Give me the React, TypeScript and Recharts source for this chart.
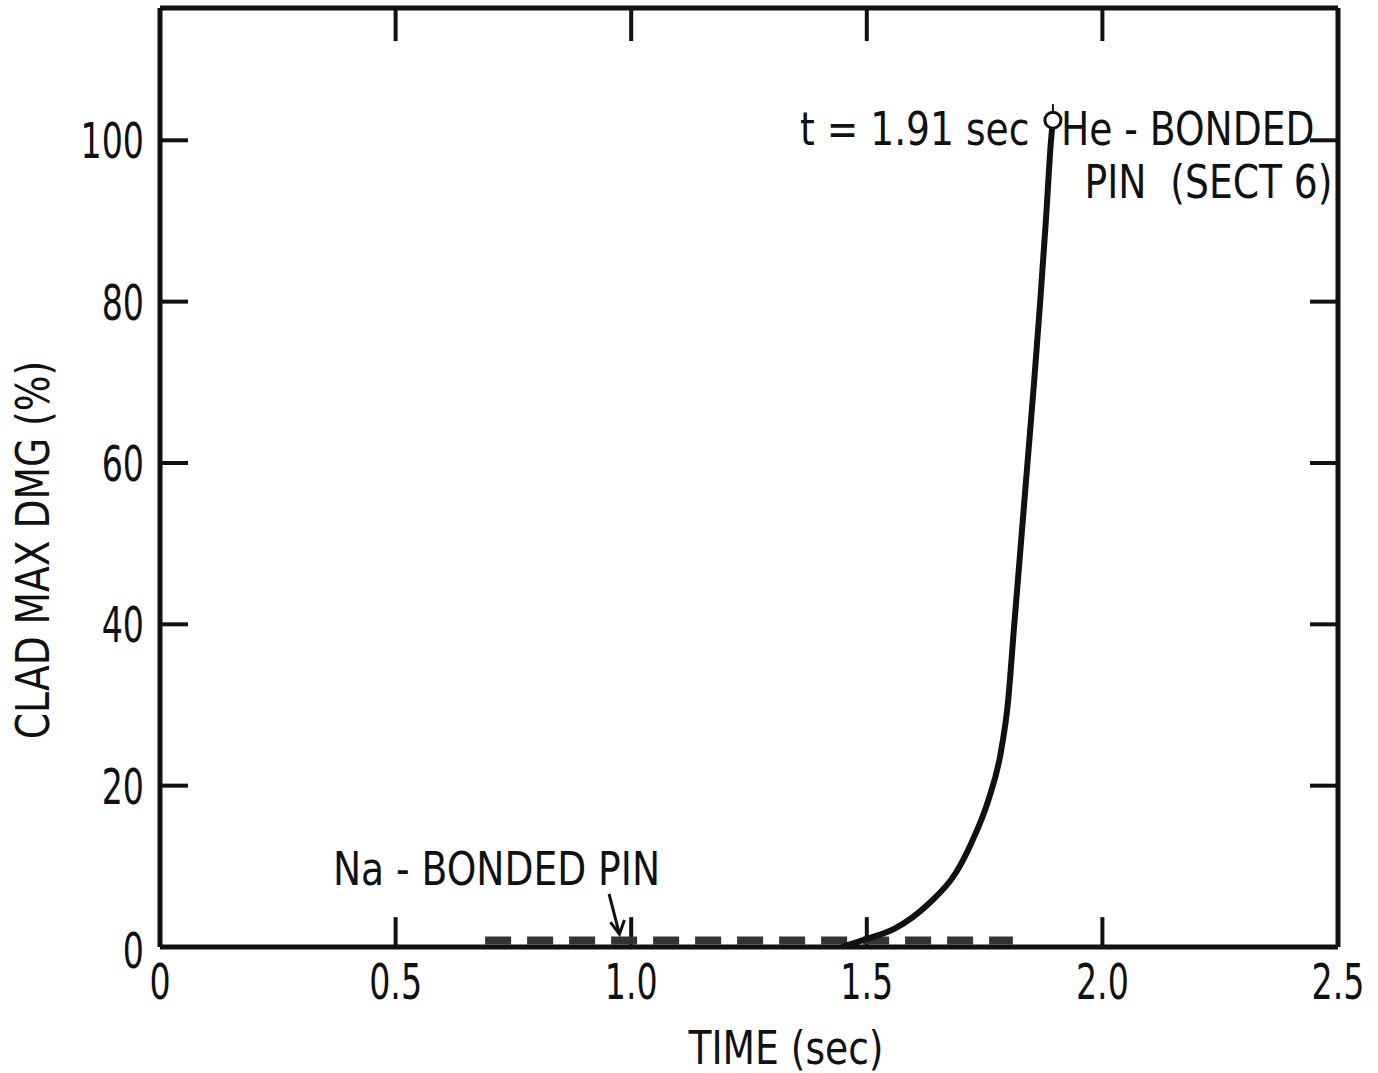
import React from "react";
import {
  LineChart,
  Line,
  XAxis,
  YAxis,
  ReferenceDot,
  ReferenceLine,
} from "recharts";

// He-bonded pin, section 6 (time in sec, clad max damage in %)
const heTime = [1.447, 1.5, 1.56, 1.63, 1.689, 1.722, 1.758, 1.784, 1.799, 1.813, 1.827, 1.841, 1.855, 1.868, 1.88, 1.891, 1.895];
const heDamage = [0, 1.0, 2.3, 5.3, 9.2, 12.9, 18.2, 24, 30, 40, 50, 60, 70, 80, 90, 100, 102.5];

// Na-bonded pin stays near zero
const naTime = [0.69, 1.81];
const naDamage = [0.8, 0.8];

const xTicks = [0, 0.5, 1, 1.5, 2, 2.5];
const xInnerTicks = [0.5, 1, 1.5, 2];
const yTicks = [0, 20, 40, 60, 80, 100];
const yInnerTicks = [20, 40, 60, 80, 100];
const yMax = 116.4;

const heData = heTime.map((t, i) => ({ t, dmg: heDamage[i] }));
const naData = naTime.map((t, i) => ({ t, dmg: naDamage[i] }));

const FONT = "'DejaVu Sans Condensed', 'Liberation Sans Narrow', 'Roboto Condensed', 'Open Sans', sans-serif";
const INK = "#111";

// tall, narrow lettering like the original drafting
function NarrowText(props: {
  x: number;
  y: number;
  text: string;
  anchor: "start" | "middle" | "end";
  size?: number;
  squeeze?: number;
  rotate?: number;
  dy?: string;
}) {
  const { x, y, text, anchor, size = 47, squeeze = 0.89, rotate = 0, dy = "0.36em" } = props;
  return (
    <g transform={`translate(${x},${y}) rotate(${rotate})`}>
      <text
        transform={`scale(${squeeze},1)`}
        textAnchor={anchor}
        dy={dy}
        fontFamily={FONT}
        fontSize={size}
        fill={INK}
        style={{ whiteSpace: "pre" }}
      >
        {text}
      </text>
    </g>
  );
}

function note(text: string, anchor: "start" | "end") {
  return (props: any) => {
    const vb = props.viewBox || {};
    return <NarrowText x={vb.x} y={vb.y} text={text} anchor={anchor} />;
  };
}

function NumTick(props: any) {
  const { x, y, payload, orientation } = props;
  const v = payload.value as number;
  const isX = orientation === "bottom";
  const label = isX ? (v === 0 ? "0" : v.toFixed(1)) : String(v);
  return (
    <NarrowText
      x={x}
      y={y}
      text={label}
      anchor={isX ? "middle" : "end"}
      size={50}
      squeeze={0.74}
      dy={isX ? "0.76em" : v === 0 ? "0.42em" : "0.36em"}
    />
  );
}

function EndDot(props: any) {
  const { cx, cy, index } = props;
  if (index !== heData.length - 1) return <g key={index} />;
  return (
    <g key={index}>
      <line x1={cx} y1={cy - 8} x2={cx} y2={cy - 16} stroke={INK} strokeWidth={2} />
      <circle cx={cx} cy={cy} r={8} fill="#fff" stroke={INK} strokeWidth={3} />
    </g>
  );
}

function Arrow(props: any) {
  const { x1, y1, x2, y2 } = props;
  return (
    <g stroke={INK} strokeWidth={3} fill="none">
      <line x1={x1} y1={y1} x2={x2} y2={y2} />
      <polyline points={`${x2 - 9},${y2 - 12} ${x2},${y2} ${x2 + 5},${y2 - 14}`} />
    </g>
  );
}

const NoLabel = () => <g />;

// inward tick lengths, in data units of the y axis
const bottomTickLen = 3.7;
const topTickLen = 4.1;

export default function App() {
  const axisStroke = { stroke: INK, strokeWidth: 5 };
  const innerTick = { stroke: INK, strokeWidth: 4 };

  return (
    <div style={{ position: "absolute", left: 0, top: 0, width: 1378, height: 1073, background: "#fff" }}>
      <LineChart width={1378} height={1073} margin={{ top: 8, right: 40, left: 0, bottom: 0 }}>
        <XAxis
          xAxisId="main"
          dataKey="t"
          type="number"
          domain={[0, 2.5]}
          ticks={xTicks}
          height={126}
          tickSize={0}
          tickMargin={14}
          tickLine={false}
          axisLine={axisStroke}
          tick={<NumTick orientation="bottom" />}
          allowDataOverflow
          label={{
            content: (p: any) => <NarrowText x={786} y={p.viewBox.y + 100} text="TIME (sec)" anchor="middle" />,
          }}
        />
        <YAxis
          yAxisId="main"
          type="number"
          domain={[0, yMax]}
          ticks={yTicks}
          width={160}
          tickSize={0}
          tickMargin={16}
          tickLine={false}
          axisLine={axisStroke}
          tick={<NumTick orientation="left" />}
          allowDataOverflow
          label={{
            content: () => <NarrowText x={32} y={550} rotate={-90} text="CLAD MAX DMG (%)" anchor="middle" />,
          }}
        />
        <YAxis yAxisId="leftTicks" type="number" domain={[0, yMax]} ticks={yInnerTicks} orientation="left" mirror tick={NoLabel} axisLine={false} tickLine={innerTick} tickSize={28} allowDataOverflow />
        <YAxis yAxisId="right" type="number" domain={[0, yMax]} ticks={yInnerTicks} orientation="right" mirror tick={NoLabel} axisLine={axisStroke} tickLine={innerTick} tickSize={28} allowDataOverflow />

        {/* top frame and inward ticks on top / bottom edges */}
        <ReferenceLine xAxisId="main" yAxisId="main" y={yMax} stroke={INK} strokeWidth={5} />
        {xInnerTicks.map((t) => (
          <ReferenceLine key={`b${t}`} xAxisId="main" yAxisId="main" segment={[{ x: t, y: 0 }, { x: t, y: bottomTickLen }]} stroke={INK} strokeWidth={4} />
        ))}
        {xInnerTicks.map((t) => (
          <ReferenceLine key={`t${t}`} xAxisId="main" yAxisId="main" segment={[{ x: t, y: yMax }, { x: t, y: yMax - topTickLen }]} stroke={INK} strokeWidth={4} />
        ))}

        <Line
          xAxisId="main"
          yAxisId="main"
          data={naData}
          dataKey="dmg"
          type="linear"
          stroke="#333"
          strokeWidth={8}
          strokeDasharray="26 16"
          dot={false}
          isAnimationActive={false}
        />
        <Line
          xAxisId="main"
          yAxisId="main"
          data={heData}
          dataKey="dmg"
          type="monotone"
          stroke={INK}
          strokeWidth={6}
          dot={EndDot}
          isAnimationActive={false}
        />

        <ReferenceDot xAxisId="main" yAxisId="main" x={1.845} y={101.5} r={0} label={{ content: note("t = 1.91 sec", "end") }} />
        <ReferenceDot xAxisId="main" yAxisId="main" x={1.912} y={101.5} r={0} label={{ content: note("He - BONDED", "start") }} />
        <ReferenceDot xAxisId="main" yAxisId="main" x={1.962} y={95} r={0} label={{ content: note("PIN  (SECT 6)", "start") }} />
        <ReferenceDot xAxisId="main" yAxisId="main" x={0.367} y={9.8} r={0} label={{ content: note("Na - BONDED PIN", "start") }} />
        <ReferenceLine
          xAxisId="main"
          yAxisId="main"
          segment={[{ x: 0.953, y: 6.6 }, { x: 0.975, y: 1.6 }]}
          shape={Arrow}
        />
      </LineChart>
    </div>
  );
}
